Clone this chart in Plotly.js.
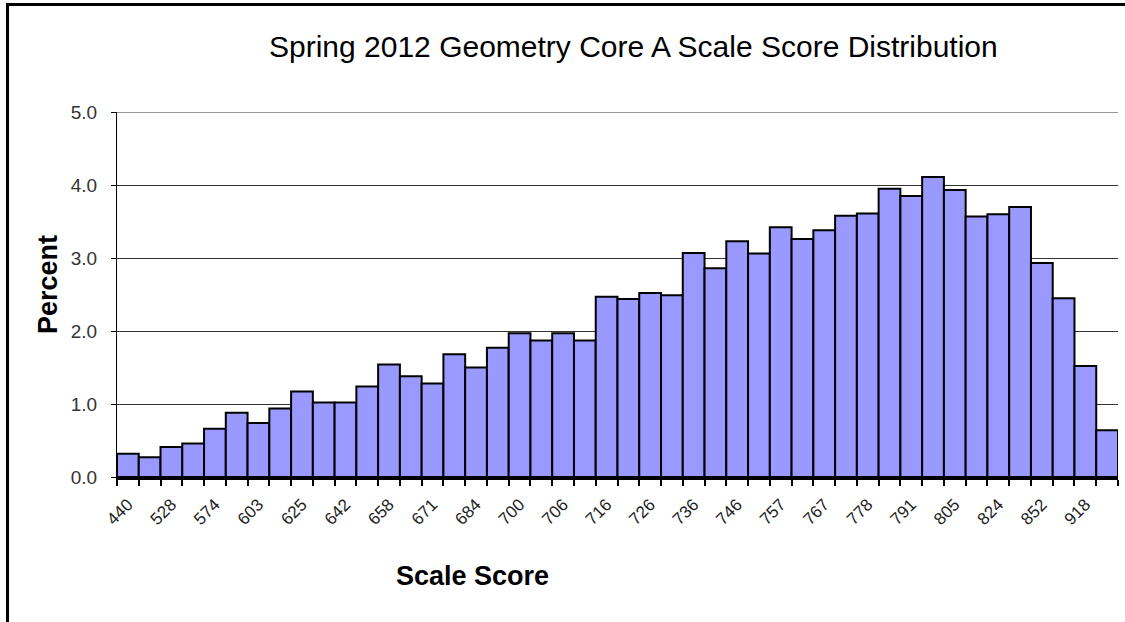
<!DOCTYPE html>
<html>
<head>
<meta charset="utf-8">
<script src="https://cdn.plot.ly/plotly-3.0.1.min.js"></script>
<style>
    html, body { margin: 0; padding: 0; background: #fff; }
    #wrap { position: relative; width: 1125px; height: 622px; overflow: hidden; }
    #frame { position: absolute; left: 6px; top: 3px; width: 1200px; height: 700px;
             border-left: 3px solid #000; border-top: 3px solid #000; pointer-events: none; }
    #chart { position: absolute; left: 0; top: 0; width: 1125px; height: 622px; }
</style>
</head>
<body>
<div id="wrap">
    <div id="chart"></div>
    <div id="frame"></div>
</div>
<script>
// labelled scale scores (Excel showed every second category)
const labelScores = ['440', '528', '574', '603', '625', '642', '658', '671', '684', '700', '706', '716',
                     '726', '736', '746', '757', '767', '778', '791', '805', '824', '852', '918'];

// percent of students per scale score bin, 46 bins
const percents = [0.32, 0.27, 0.41, 0.46, 0.66, 0.88, 0.74, 0.94, 1.17, 1.02, 1.02, 1.24,
                  1.54, 1.38, 1.28, 1.68, 1.50, 1.77, 1.97, 1.87, 1.97, 1.87, 2.47, 2.44,
                  2.52, 2.49, 3.07, 2.86, 3.23, 3.06, 3.42, 3.26, 3.38, 3.58, 3.61, 3.95,
                  3.85, 4.11, 3.93, 3.57, 3.60, 3.70, 2.93, 2.45, 1.52, 0.64];

const yTicks = [0, 1, 2, 3, 4, 5];

const bins = percents.map((_, i) => i);
const labelPos = labelScores.map((_, i) => i * 2);
const edges = percents.concat([0]).map((_, i) => i - 0.5);
const xRange = [-0.5, percents.length - 0.5];
const yMax = yTicks[yTicks.length - 1];

const font = 'Liberation Sans, Arial, sans-serif';

Plotly.newPlot('chart', [{
    x: bins, y: percents,
    type: 'bar',
    width: 1,
    marker: { color: '#9999FF', line: { color: '#000', width: 2 } },
    hoverinfo: 'y'
}], {
    width: 1125, height: 622,
    margin: { l: 117, r: 7, t: 112, b: 145 },
    paper_bgcolor: '#fff', plot_bgcolor: '#fff',
    showlegend: false,
    font: { family: font, color: '#000' },
    title: {
        text: 'Spring 2012 Geometry Core A Scale Score Distribution',
        font: { family: font, size: 30, color: '#000' },
        x: 0.563, xanchor: 'center',
        y: 0.926, yanchor: 'middle'
    },
    xaxis: {
        range: xRange,
        tickmode: 'array', tickvals: labelPos, ticktext: labelScores,
        tickangle: -45,
        ticks: '',
        ticklabelstandoff: 8,
        tickfont: { family: font, size: 17, color: '#222' },
        // tick marks sit on the bin edges, labels on every second bin
        minor: {
            tickmode: 'array', tickvals: edges,
            ticks: 'outside', ticklen: 6, tickwidth: 2, tickcolor: '#000',
            showgrid: false
        },
        showgrid: false, zeroline: false,
        showline: true, linecolor: '#000', linewidth: 3
    },
    yaxis: {
        range: [0, yMax],
        tickmode: 'array', tickvals: yTicks,
        tickformat: '.1f',
        ticks: 'outside', ticklen: 5, tickcolor: '#000', tickwidth: 1,
        ticklabelstandoff: 10,
        tickfont: { family: font, size: 19, color: '#333' },
        showgrid: true, gridcolor: '#333', gridwidth: 1,
        zeroline: false,
        showline: true, linecolor: '#000', linewidth: 1
    },
    shapes: [
        // top gridline at 5.0, which Plotly drops at the plot edge
        { type: 'line', xref: 'paper', yref: 'y', x0: 0, x1: 1, y0: yMax, y1: yMax,
          line: { color: '#333', width: 1 } }
    ],
    annotations: [
        {
            text: '<b>Percent</b>', textangle: -90,
            xref: 'paper', yref: 'paper',
            x: -69 / 1001, y: (477 - 285) / 365,
            xanchor: 'center', yanchor: 'middle', showarrow: false,
            font: { family: font, size: 27, color: '#000' }
        },
        {
            text: '<b>Scale Score</b>',
            xref: 'paper', yref: 'paper',
            x: (472 - 117) / 1001, y: -(576 - 477) / 365,
            xanchor: 'center', yanchor: 'middle', showarrow: false,
            font: { family: font, size: 27, color: '#000' }
        }
    ]
}, { displayModeBar: false, staticPlot: true });
</script>
</body>
</html>
